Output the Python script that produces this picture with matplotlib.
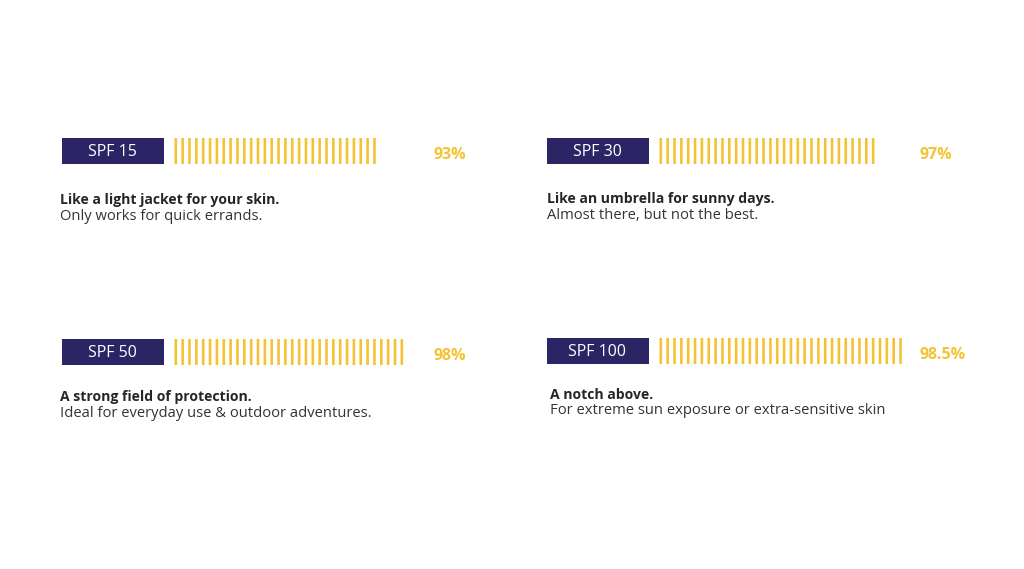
import matplotlib
matplotlib.use("Agg")
import matplotlib.pyplot as plt
from matplotlib.patches import Rectangle

# ---- data ----
labels = ["SPF 15", "SPF 30", "SPF 50", "SPF 100"]
percents = ["93%", "97%", "98%", "98.5%"]
stripe_counts = [30, 32, 34, 36]
titles = ["Like a light jacket for your skin.",
          "Like an umbrella for sunny days.",
          "A strong field of protection.",
          "A notch above."]
subtitles = ["Only works for quick errands.",
             "Almost there, but not the best.",
             "Ideal for everyday use & outdoor adventures.",
             "For extreme sun exposure or extra-sensitive skin"]

# ---- layout ----
W, H = 1024, 569
navy = "#2b2566"
yellow = "#f4c233"
dark = "#262626"
sub_col = "#333333"
font = "Open Sans"

panels = [
    dict(bx=62, by=138, tx=60, px=433, ty=200, sy=216),
    dict(bx=547, by=138, tx=547, px=920, ty=199, sy=215),
    dict(bx=62, by=339, tx=60, px=433, ty=397, sy=413),
    dict(bx=547, by=338, tx=550, px=920, ty=395, sy=410),
]
box_w, box_h = 102, 26
stripe_gap = 10.5
stripe_step = 6.85
stripe_w = 2.6

fig = plt.figure(figsize=(W / 100, H / 100), dpi=100)
ax = fig.add_axes([0, 0, 1, 1])
ax.set_xlim(0, W)
ax.set_ylim(H, 0)
ax.axis("off")

for i, p in enumerate(panels):
    ax.add_patch(Rectangle((p["bx"], p["by"]), box_w, box_h, color=navy, lw=0))
    ax.text(p["bx"] + box_w / 2 - 1, p["by"] + box_h / 2 + 0.5, labels[i], color="white",
            fontsize=11.5, ha="center", va="center", family=font)
    sx0 = p["bx"] + box_w + stripe_gap
    xs = [sx0 + k * stripe_step for k in range(stripe_counts[i])]
    bars = ax.bar(xs, box_h, width=stripe_w, bottom=p["by"], color=yellow,
                  align="edge", lw=0)
    for b in bars:
        b.set_snap(False)
        b.set_antialiased(True)
    ax.text(p["px"], p["by"] + box_h / 2 + 4, percents[i], color=yellow, fontsize=11.5,
            fontweight="bold", ha="left", va="center", family=font)
    ax.text(p["tx"], p["ty"], titles[i], color=dark, fontsize=10.1, fontweight="bold",
            ha="left", va="center", family=font)
    ax.text(p["tx"], p["sy"], subtitles[i], color=sub_col, fontsize=10.6,
            ha="left", va="center", family=font)

fig.savefig("out.png", dpi=100, facecolor="white")
